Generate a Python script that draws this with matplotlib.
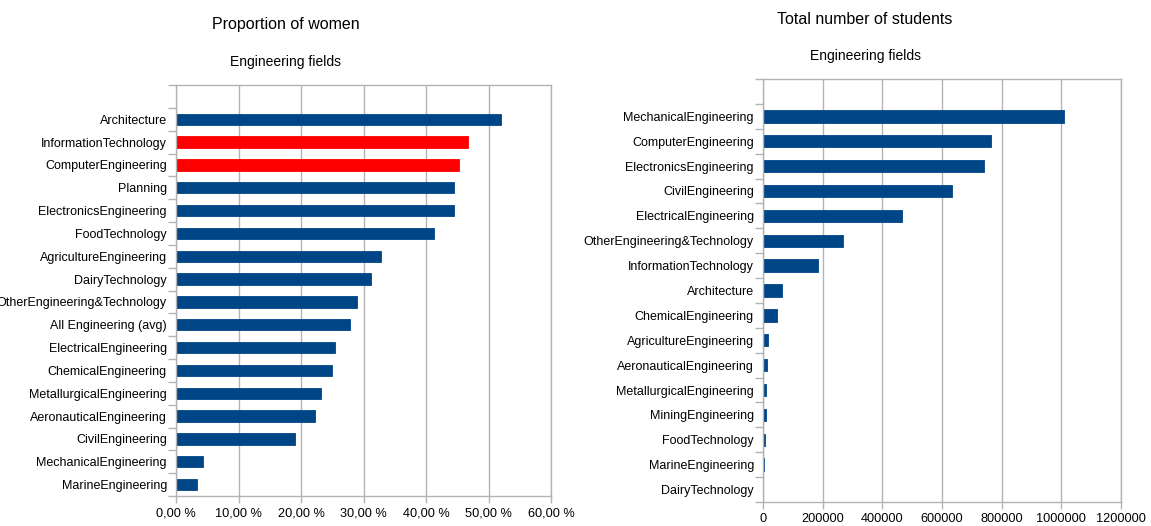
import matplotlib
matplotlib.use("Agg")
import matplotlib.pyplot as plt
from matplotlib.ticker import FuncFormatter, FixedLocator, MultipleLocator

plt.rcParams['font.family'] = ['Liberation Sans', 'DejaVu Sans']

# ---- data ----
women_fields = ["Architecture", "InformationTechnology", "ComputerEngineering", "Planning",
                "ElectronicsEngineering", "FoodTechnology", "AgricultureEngineering",
                "DairyTechnology", "OtherEngineering&Technology", "All Engineering (avg)",
                "ElectricalEngineering", "ChemicalEngineering", "MetallurgicalEngineering",
                "AeronauticalEngineering", "CivilEngineering", "MechanicalEngineering",
                "MarineEngineering"]
women_pct = [52.0, 46.7, 45.2, 44.4, 44.4, 41.2, 32.8, 31.2, 29.0, 27.9,
             25.4, 24.9, 23.2, 22.3, 19.0, 4.3, 3.4]
highlight = ["InformationTechnology", "ComputerEngineering"]

student_fields = ["MechanicalEngineering", "ComputerEngineering", "ElectronicsEngineering",
                  "CivilEngineering", "ElectricalEngineering", "OtherEngineering&Technology",
                  "InformationTechnology", "Architecture", "ChemicalEngineering",
                  "AgricultureEngineering", "AeronauticalEngineering", "MetallurgicalEngineering",
                  "MiningEngineering", "FoodTechnology", "MarineEngineering", "DairyTechnology"]
student_totals = [1008000, 763000, 742000, 632000, 467000, 269000, 185000, 64700,
                  47000, 15700, 14500, 10000, 9000, 7800, 2300, 1000]

BLUE = "#004586"
RED = "#ff0000"
GRID = "#b3b3b3"
TXT = "#000000"

fig = plt.figure(figsize=(11.51, 5.26), dpi=100)


def style_axes(ax, n):
    # categories at y = n-1 ... 0 (top to bottom), one empty slot on top
    ax.set_ylim(-0.5, n + 0.5)
    for s in ax.spines.values():
        s.set_color(GRID)
        s.set_linewidth(1)
    ax.grid(axis='x', color=GRID, linewidth=1)
    ax.set_axisbelow(True)
    ax.yaxis.set_minor_locator(FixedLocator([i - 0.5 for i in range(n + 2)]))
    ax.tick_params(axis='y', which='major', length=0, pad=6.5, labelsize=9, labelcolor=TXT)
    ax.tick_params(axis='y', which='minor', length=6, color=GRID, width=1)
    ax.tick_params(axis='x', which='major', length=5, color=GRID, width=1,
                   labelsize=9.2, labelcolor=TXT, pad=3)


# ---- left chart ----
ax1 = fig.add_axes([176 / 1151, 1 - 496 / 526, (551 - 176) / 1151, (496 - 85) / 526])
n1 = len(women_fields)
ypos1 = [n1 - 1 - i for i in range(n1)]
cols1 = [RED if f in highlight else BLUE for f in women_fields]
ax1.barh(ypos1, women_pct, height=0.5, color=cols1, edgecolor=cols1, linewidth=0.6)
ax1.set_yticks(ypos1)
ax1.set_yticklabels(women_fields)
ax1.set_xlim(0, 60)
ax1.xaxis.set_major_locator(MultipleLocator(10))
ax1.xaxis.set_major_formatter(FuncFormatter(lambda v, p: f"{v:.2f}".replace('.', ',') + " %"))
style_axes(ax1, n1)

fig.text(286 / 1151, 1 - 25 / 526, "Proportion of women", ha='center', va='center',
         fontsize=11.5, color=TXT)
fig.text(286 / 1151, 1 - 62 / 526, "Engineering fields", ha='center', va='center',
         fontsize=10, color=TXT)

# ---- right chart ----
ax2 = fig.add_axes([763 / 1151, 1 - 502 / 526, (1121 - 763) / 1151, (502 - 79) / 526])
n2 = len(student_fields)
ypos2 = [n2 - 1 - i for i in range(n2)]
ax2.barh(ypos2, student_totals, height=0.5, color=BLUE, edgecolor=BLUE, linewidth=0.6)
ax2.set_yticks(ypos2)
ax2.set_yticklabels(student_fields)
ax2.set_xlim(0, 1200000)
ax2.xaxis.set_major_locator(MultipleLocator(200000))
ax2.xaxis.set_major_formatter(FuncFormatter(lambda v, p: f"{int(round(v))}"))
style_axes(ax2, n2)

fig.text(865 / 1151, 1 - 20 / 526, "Total number of students", ha='center', va='center',
         fontsize=11.5, color=TXT)
fig.text(865 / 1151, 1 - 56 / 526, "Engineering fields", ha='center', va='center',
         fontsize=10, color=TXT)

fig.savefig("out.png", dpi=100, facecolor='white')
